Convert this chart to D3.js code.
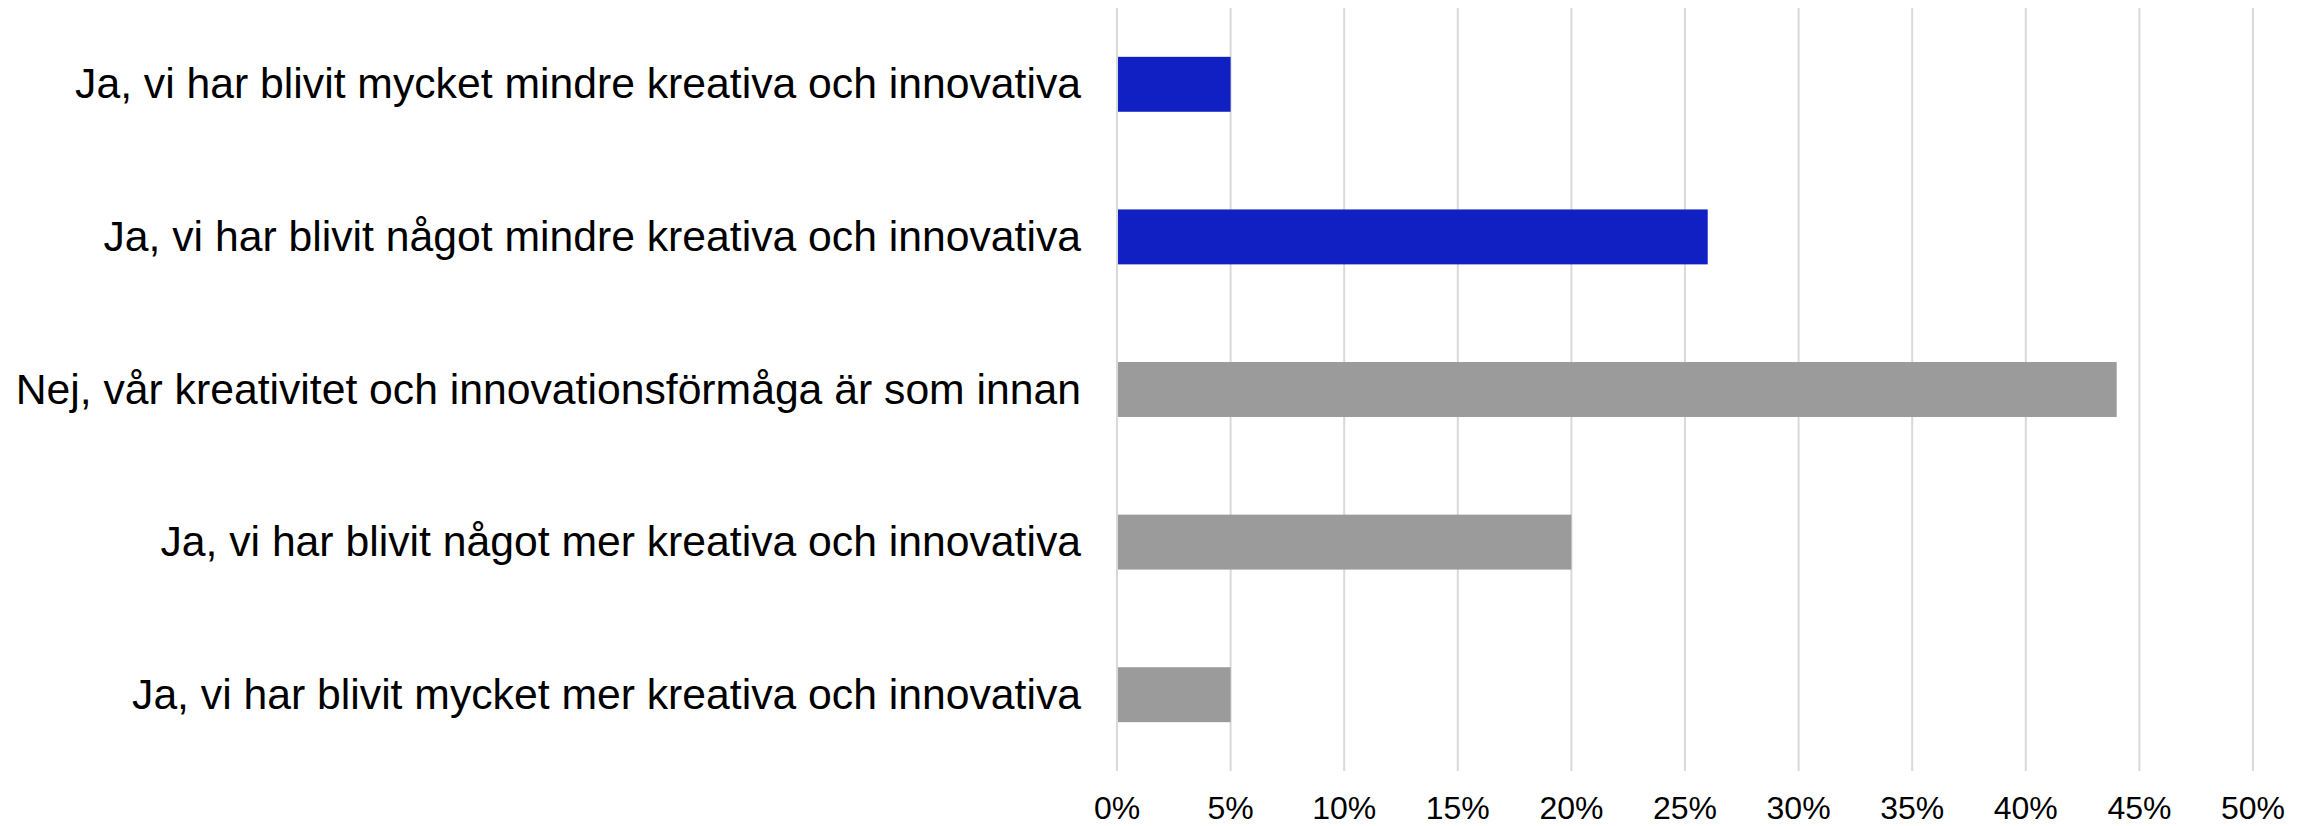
<!DOCTYPE html>
<html><head><meta charset="utf-8">
<script src="https://cdn.jsdelivr.net/npm/d3@7"></script>
<style>body{margin:0;background:#fff}svg{display:block}</style>
</head><body>
<script>
const categories = [
  "Ja, vi har blivit mycket mindre kreativa och innovativa",
  "Ja, vi har blivit något mindre kreativa och innovativa",
  "Nej, vår kreativitet och innovationsförmåga är som innan",
  "Ja, vi har blivit något mer kreativa och innovativa",
  "Ja, vi har blivit mycket mer kreativa och innovativa"
];
const values = [5, 26, 44, 20, 5];
const barColors = ["#1020C2", "#1020C2", "#9B9B9B", "#9B9B9B", "#9B9B9B"];
const tickValues = [0, 5, 10, 15, 20, 25, 30, 35, 40, 45, 50];

const W = 2313, H = 826;
const svg = d3.select("body").append("svg").attr("width", W).attr("height", H);
const x = d3.scaleLinear().domain([0, 50]).range([1117, 2253]);
const y = d3.scaleBand().domain(categories).range([8, 771]).paddingInner(0.64).paddingOuter(0.32);

svg.append("g").selectAll("line").data(tickValues).join("line")
  .attr("x1", d => x(d)).attr("x2", d => x(d))
  .attr("y1", 8).attr("y2", 771)
  .attr("stroke", "#D9D9D9").attr("stroke-width", 2);

svg.append("g").selectAll("rect").data(categories).join("rect")
  .attr("x", x(0) + 1)
  .attr("y", d => y(d))
  .attr("width", (d, i) => x(values[i]) - x(0) - 1)
  .attr("height", y.bandwidth())
  .attr("fill", (d, i) => barColors[i]);

svg.append("g").selectAll("text").data(categories).join("text")
  .attr("x", 1081)
  .attr("y", d => y(d) + y.bandwidth() / 2 + 14)
  .attr("text-anchor", "end")
  .attr("font-family", "Liberation Sans, Arial, sans-serif")
  .attr("font-size", 42.7)
  .attr("fill", "#000")
  .text(d => d);

svg.append("g").selectAll("text").data(tickValues).join("text")
  .attr("x", d => x(d))
  .attr("y", 819)
  .attr("text-anchor", "middle")
  .attr("font-family", "Liberation Sans, Arial, sans-serif")
  .attr("font-size", 32)
  .attr("fill", "#000")
  .text(d => d + "%");
</script>
</body></html>
